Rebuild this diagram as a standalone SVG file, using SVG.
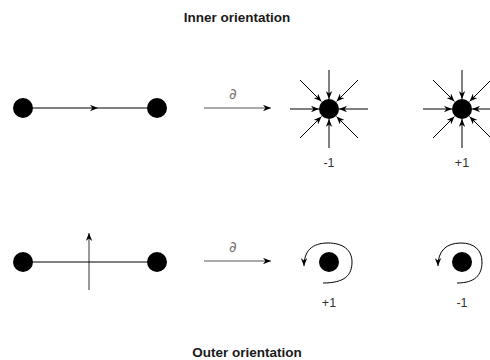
<svg xmlns="http://www.w3.org/2000/svg" width="490" height="360" viewBox="0 0 490 360">
<style>
.title{font-family:"Liberation Sans",Arial,sans-serif;font-size:13.5px;font-weight:bold;fill:#1a1a1a;text-anchor:middle}
.lbl{font-family:"Liberation Sans",Arial,sans-serif;font-size:12.5px;fill:#333;text-anchor:middle}
.d{font-family:"DejaVu Sans",sans-serif;font-size:15px;fill:#777;text-anchor:middle}
.e{stroke:#000;stroke-width:1;fill:none}
.g{stroke:#555;stroke-width:1.2;fill:none}
.dot{fill:#000}
</style>
<defs>
<marker id="ab" viewBox="0 0 10 8" refX="10" refY="4" markerWidth="8" markerHeight="7" orient="auto" markerUnits="userSpaceOnUse"><path d="M0,0 L10,4 L0,8 L3,4 z" fill="#000"/></marker>
<marker id="ag" viewBox="0 0 10 8" refX="10" refY="4" markerWidth="8" markerHeight="7" orient="auto" markerUnits="userSpaceOnUse"><path d="M0,0 L10,4 L0,8 L3,4 z" fill="#000"/></marker>
</defs>
<text class="title" x="237" y="22">Inner orientation</text>
<text class="title" x="247" y="357">Outer orientation</text>

<g id="connectors">
<path class="e" d="M33 108 L98 108 L147 108" marker-mid="url(#ab)"/>
<line class="g" x1="204" y1="108" x2="271" y2="108" marker-end="url(#ag)"/>
<line class="g" x1="89" y1="290" x2="89" y2="233" marker-end="url(#ag)"/>
<line class="e" x1="33" y1="262" x2="147" y2="262"/>
<line class="g" x1="204" y1="261" x2="271" y2="261" marker-end="url(#ag)"/>
<g id="burst1">
<line class="e" x1="329" y1="70" x2="329" y2="99" marker-end="url(#ab)"/>
<line class="e" x1="329" y1="148" x2="329" y2="119" marker-end="url(#ab)"/>
<line class="e" x1="290" y1="109" x2="319" y2="109" marker-end="url(#ab)"/>
<line class="e" x1="368" y1="109" x2="339" y2="109" marker-end="url(#ab)"/>
<line class="e" x1="300" y1="80" x2="321.5" y2="101.5" marker-end="url(#ab)"/>
<line class="e" x1="358" y1="80" x2="336.5" y2="101.5" marker-end="url(#ab)"/>
<line class="e" x1="300" y1="138" x2="321.5" y2="116.5" marker-end="url(#ab)"/>
<line class="e" x1="358" y1="138" x2="336.5" y2="116.5" marker-end="url(#ab)"/>
</g>
<g id="burst2">
<line class="e" x1="462" y1="70" x2="462" y2="99" marker-end="url(#ab)"/>
<line class="e" x1="462" y1="148" x2="462" y2="119" marker-end="url(#ab)"/>
<line class="e" x1="423" y1="109" x2="452" y2="109" marker-end="url(#ab)"/>
<line class="e" x1="501" y1="109" x2="472" y2="109" marker-end="url(#ab)"/>
<line class="e" x1="433" y1="80" x2="454.5" y2="101.5" marker-end="url(#ab)"/>
<line class="e" x1="491" y1="80" x2="469.5" y2="101.5" marker-end="url(#ab)"/>
<line class="e" x1="433" y1="138" x2="454.5" y2="116.5" marker-end="url(#ab)"/>
<line class="e" x1="491" y1="138" x2="469.5" y2="116.5" marker-end="url(#ab)"/>
</g>
<path class="e" d="M323 283 C345 283 352 275 352 262 C352 250 343 243 328 243 C312 243 304 251 304 266" marker-end="url(#ab)"/>
<path class="e" d="M457 283 C475 283 482 275 482 262 C482 250 474 243 461 243 C446 243 438 251 438 266" marker-end="url(#ab)"/>
</g>

<g id="n1"><circle class="dot" cx="23" cy="108" r="10"/></g>
<g id="n2"><circle class="dot" cx="157" cy="108" r="10"/></g>
<g id="n3"><circle class="dot" cx="329" cy="109" r="10"/></g>
<g id="n4"><circle class="dot" cx="462" cy="109" r="10"/></g>
<g id="n5"><circle class="dot" cx="23" cy="262" r="10"/></g>
<g id="n6"><circle class="dot" cx="157" cy="262" r="10"/></g>
<g id="n7"><circle class="dot" cx="329" cy="262" r="10"/></g>
<g id="n8"><circle class="dot" cx="462" cy="262" r="10"/></g>

<text class="d" x="233" y="99">∂</text>
<text class="d" x="233" y="252">∂</text>
<text class="lbl" x="329" y="167">-1</text>
<text class="lbl" x="462" y="167">+1</text>
<text class="lbl" x="329" y="307">+1</text>
<text class="lbl" x="462" y="307">-1</text>
</svg>
